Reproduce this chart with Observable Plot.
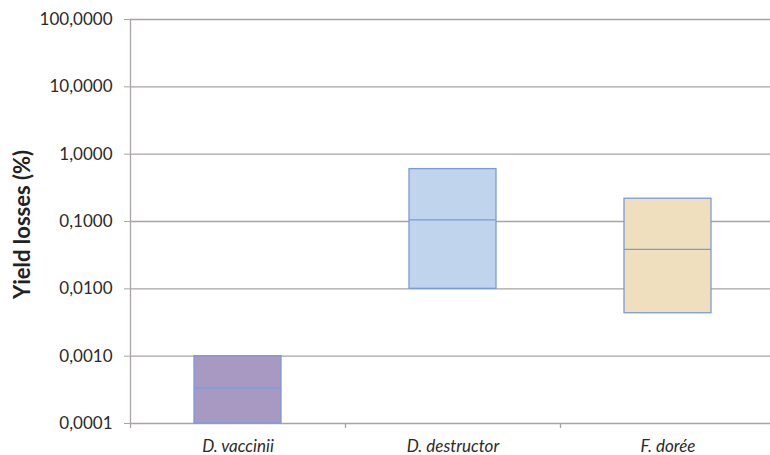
<!DOCTYPE html>
<html>
<head>
<meta charset="utf-8">
<script src="https://cdn.jsdelivr.net/npm/d3@7"></script>
<script src="https://cdn.jsdelivr.net/npm/@observablehq/plot@0.6"></script>
<style>
  body { margin: 0; background: #fff; }
  #chart svg { display: block; }
</style>
</head>
<body>
<div id="chart"></div>
<script>
const categories = ["D. vaccinii", "D. destructor", "F. dorée"];
const lows = [0.0001, 0.01, 0.00434];
const medians = [0.000335, 0.106, 0.0386];
const highs = [0.001, 0.60, 0.218];
const fills = ["#a899c2", "#c1d4ee", "#efdfbe"];
const yTicks = [0.0001, 0.001, 0.01, 0.1, 1, 10, 100];

const boxes = categories.map((c, i) => ({cat: c, low: lows[i], med: medians[i], high: highs[i], fill: fills[i]}));
const fmt = v => d3.format(".4f")(v).replace(".", ",");

const W = 770, marginLeft = 130, rightEdge = 775;
const band = (rightEdge - marginLeft) / categories.length;
const gridColor = "#aaa3a3";
const boxStroke = "#7a9bd8";

const chart = Plot.plot({
  width: W,
  height: 455,
  marginTop: 19,
  marginBottom: 32,
  marginLeft: marginLeft,
  marginRight: 0,
  style: {fontFamily: "Lato, 'Open Sans', sans-serif", background: "#fff", overflow: "visible"},
  x: {domain: categories, range: [marginLeft, rightEdge], paddingInner: 0.595, paddingOuter: 0.2975, align: 0.5},
  y: {type: "log", domain: [0.0001, 100], label: null},
  marks: [
    Plot.ruleY(yTicks, {stroke: gridColor, strokeWidth: 1.3}),
    Plot.frame({anchor: "left", stroke: gridColor, strokeWidth: 1.3}),
    Plot.ruleX(categories, {x: d => d, y1: 0.0001, y2: 0.0001, insetBottom: -5, dx: -band / 2, stroke: gridColor, strokeWidth: 1.3}),
    Plot.barY(boxes, {x: "cat", y1: "low", y2: "high", fill: "fill", stroke: boxStroke, strokeWidth: 1.3}),
    Plot.tickY(boxes, {x: "cat", y: "med", stroke: boxStroke, strokeWidth: 1.3}),
    Plot.axisY(yTicks, {tickFormat: fmt, tickSize: 6, tickPadding: 12, fontSize: 17, fill: "#2a2a2a", stroke: gridColor, label: null}),
    Plot.axisX({tickSize: 0, tickPadding: 16, fontSize: 17, fontStyle: "italic", fill: "#2a2a2a", label: null}),
    Plot.text(["Yield losses (%)"], {frameAnchor: "left", textAnchor: "middle", dx: -108, dy: 3, rotate: -90, fontSize: 22, fontWeight: "bold", fill: "#222"})
  ]
});

document.getElementById("chart").appendChild(chart);
</script>
</body>
</html>
